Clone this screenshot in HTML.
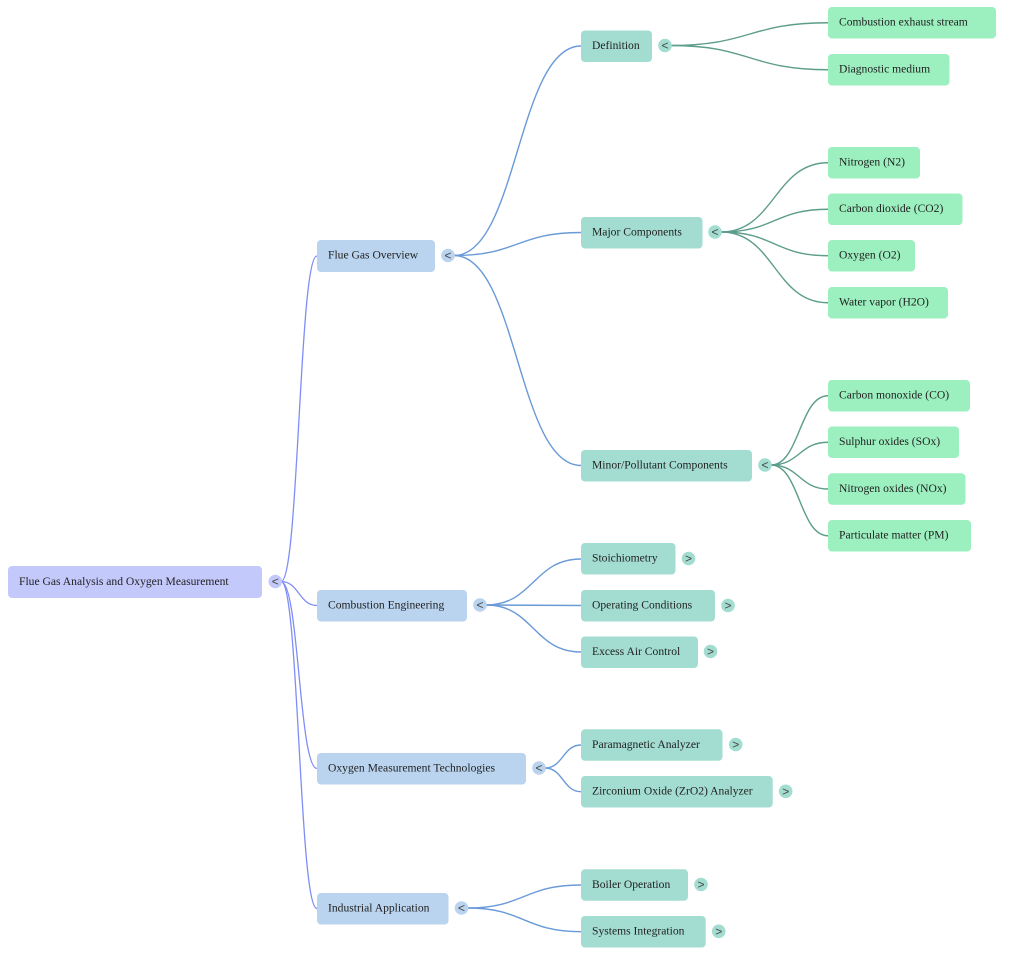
<!DOCTYPE html>
<html>
<head>
<meta charset="utf-8">
<style>
  html,body{margin:0;padding:0;background:#ffffff;}
  svg{display:block;}
  text{font-family:"Liberation Serif","Times New Roman",serif;font-size:11.6px;fill:#1f1f1f;}
  .ct{font-family:"Liberation Sans",sans-serif;font-size:12px;fill:#444;text-anchor:middle;}
  .lr{fill:none;stroke:#7e8ef6;stroke-width:1.3;}
  .l1{fill:none;stroke:#6a9ad8;stroke-width:1.4;}
  .l2{fill:none;stroke:#5d9d8b;stroke-width:1.4;}
</style>
</head>
<body>
<svg width="1024" height="955" viewBox="0 0 1024 955" xmlns="http://www.w3.org/2000/svg">
  <!-- root connectors -->
  <path class="lr" d="M281,581.5 C299,581.5 299,256 317,256"/>
  <path class="lr" d="M281,581.5 C299,581.5 299,605.5 317,605.5"/>
  <path class="lr" d="M281,581.5 C299,581.5 299,768.5 317,768.5"/>
  <path class="lr" d="M281,581.5 C299,581.5 299,908.5 317,908.5"/>

  <!-- level1 connectors -->
  <path class="l1" d="M454,255.5 C517.5,255.5 517.5,46 581,46"/>
  <path class="l1" d="M454,255.5 C517.5,255.5 517.5,232.5 581,232.5"/>
  <path class="l1" d="M454,255.5 C517.5,255.5 517.5,465.5 581,465.5"/>

  <path class="l1" d="M486,605 C533.5,605 533.5,559 581,559"/>
  <path class="l1" d="M486,605 C533.5,605 533.5,605.5 581,605.5"/>
  <path class="l1" d="M486,605 C533.5,605 533.5,652 581,652"/>

  <path class="l1" d="M545,768 C563,768 563,745 581,745"/>
  <path class="l1" d="M545,768 C563,768 563,791.7 581,791.7"/>

  <path class="l1" d="M467.5,908 C524,908 524,885 581,885"/>
  <path class="l1" d="M467.5,908 C524,908 524,931.7 581,931.7"/>

  <!-- level2 connectors -->
  <path class="l2" d="M671,45.5 C749.5,45.5 749.5,22.75 828,22.75"/>
  <path class="l2" d="M671,45.5 C749.5,45.5 749.5,69.75 828,69.75"/>

  <path class="l2" d="M721,232 C774.5,232 774.5,162.75 828,162.75"/>
  <path class="l2" d="M721,232 C774.5,232 774.5,209.25 828,209.25"/>
  <path class="l2" d="M721,232 C774.5,232 774.5,255.75 828,255.75"/>
  <path class="l2" d="M721,232 C774.5,232 774.5,302.75 828,302.75"/>

  <path class="l2" d="M771,465 C799.5,465 799.5,395.75 828,395.75"/>
  <path class="l2" d="M771,465 C799.5,465 799.5,442.25 828,442.25"/>
  <path class="l2" d="M771,465 C799.5,465 799.5,489 828,489"/>
  <path class="l2" d="M771,465 C799.5,465 799.5,535.75 828,535.75"/>

  <!-- root -->
  <rect x="8" y="566" width="254" height="32" rx="4" fill="#c4c9fb"/>
  <text x="19" y="585">Flue Gas Analysis and Oxygen Measurement</text>
  <circle cx="275.3" cy="581.5" r="6.8" fill="#c4c9fb"/>
  <text class="ct" x="275.3" y="585.6">&lt;</text>

  <!-- level 1 -->
  <g>
    <rect x="317" y="240" width="118" height="32" rx="4" fill="#bad4ef"/>
    <text x="328" y="258.5">Flue Gas Overview</text>
    <circle cx="448" cy="255.5" r="6.8" fill="#bad4ef"/>
    <text class="ct" x="448" y="259.6">&lt;</text>

    <rect x="317" y="590" width="150" height="31.5" rx="4" fill="#bad4ef"/>
    <text x="328" y="608.5">Combustion Engineering</text>
    <circle cx="480" cy="605" r="6.8" fill="#bad4ef"/>
    <text class="ct" x="480" y="609.1">&lt;</text>

    <rect x="317" y="753" width="209" height="31.5" rx="4" fill="#bad4ef"/>
    <text x="328" y="771.5">Oxygen Measurement Technologies</text>
    <circle cx="539" cy="768" r="6.8" fill="#bad4ef"/>
    <text class="ct" x="539" y="772.1">&lt;</text>

    <rect x="317" y="893" width="131.5" height="31.5" rx="4" fill="#bad4ef"/>
    <text x="328" y="911.5">Industrial Application</text>
    <circle cx="461.5" cy="908" r="6.8" fill="#bad4ef"/>
    <text class="ct" x="461.5" y="912.1">&lt;</text>
  </g>

  <!-- level 2 -->
  <g>
    <rect x="581" y="30.5" width="71" height="31.5" rx="4" fill="#a3ddd1"/>
    <text x="592" y="49">Definition</text>
    <circle cx="665" cy="45.5" r="6.8" fill="#a3ddd1"/>
    <text class="ct" x="665" y="49.6">&lt;</text>

    <rect x="581" y="217" width="121.5" height="31.5" rx="4" fill="#a3ddd1"/>
    <text x="592" y="235.5">Major Components</text>
    <circle cx="715" cy="232" r="6.8" fill="#a3ddd1"/>
    <text class="ct" x="715" y="236.1">&lt;</text>

    <rect x="581" y="450" width="171" height="31.5" rx="4" fill="#a3ddd1"/>
    <text x="592" y="468.5">Minor/Pollutant Components</text>
    <circle cx="765" cy="465" r="6.8" fill="#a3ddd1"/>
    <text class="ct" x="765" y="469.1">&lt;</text>

    <rect x="581" y="543" width="94.5" height="31.5" rx="4" fill="#a3ddd1"/>
    <text x="592" y="561.5">Stoichiometry</text>
    <circle cx="688.5" cy="558.5" r="6.8" fill="#a3ddd1"/>
    <text class="ct" x="688.5" y="562.6">&gt;</text>

    <rect x="581" y="590" width="134" height="31.5" rx="4" fill="#a3ddd1"/>
    <text x="592" y="608.5">Operating Conditions</text>
    <circle cx="728" cy="605.5" r="6.8" fill="#a3ddd1"/>
    <text class="ct" x="728" y="609.6">&gt;</text>

    <rect x="581" y="636.5" width="117" height="31.5" rx="4" fill="#a3ddd1"/>
    <text x="592" y="655">Excess Air Control</text>
    <circle cx="710.5" cy="651.5" r="6.8" fill="#a3ddd1"/>
    <text class="ct" x="710.5" y="655.6">&gt;</text>

    <rect x="581" y="729.3" width="141.5" height="31.5" rx="4" fill="#a3ddd1"/>
    <text x="592" y="747.8">Paramagnetic Analyzer</text>
    <circle cx="735.7" cy="744.5" r="6.8" fill="#a3ddd1"/>
    <text class="ct" x="735.7" y="748.6">&gt;</text>

    <rect x="581" y="776" width="191.7" height="31.5" rx="4" fill="#a3ddd1"/>
    <text x="592" y="794.5">Zirconium Oxide (ZrO2) Analyzer</text>
    <circle cx="785.7" cy="791.3" r="6.8" fill="#a3ddd1"/>
    <text class="ct" x="785.7" y="795.4">&gt;</text>

    <rect x="581" y="869.3" width="107" height="31.5" rx="4" fill="#a3ddd1"/>
    <text x="592" y="887.8">Boiler Operation</text>
    <circle cx="701" cy="884.5" r="6.8" fill="#a3ddd1"/>
    <text class="ct" x="701" y="888.6">&gt;</text>

    <rect x="581" y="916" width="124.7" height="31.5" rx="4" fill="#a3ddd1"/>
    <text x="592" y="934.5">Systems Integration</text>
    <circle cx="718.7" cy="931.3" r="6.8" fill="#a3ddd1"/>
    <text class="ct" x="718.7" y="935.4">&gt;</text>
  </g>

  <!-- level 3 -->
  <g>
    <rect x="828" y="7" width="168" height="31.5" rx="4" fill="#9cefbf"/>
    <text x="839" y="25.5">Combustion exhaust stream</text>

    <rect x="828" y="54" width="121.5" height="31.5" rx="4" fill="#9cefbf"/>
    <text x="839" y="72.5">Diagnostic medium</text>

    <rect x="828" y="147" width="92" height="31.5" rx="4" fill="#9cefbf"/>
    <text x="839" y="165.5">Nitrogen (N2)</text>

    <rect x="828" y="193.5" width="134.5" height="31.5" rx="4" fill="#9cefbf"/>
    <text x="839" y="212">Carbon dioxide (CO2)</text>

    <rect x="828" y="240" width="87" height="31.5" rx="4" fill="#9cefbf"/>
    <text x="839" y="258.5">Oxygen (O2)</text>

    <rect x="828" y="287" width="120" height="31.5" rx="4" fill="#9cefbf"/>
    <text x="839" y="305.5">Water vapor (H2O)</text>

    <rect x="828" y="380" width="142" height="31.5" rx="4" fill="#9cefbf"/>
    <text x="839" y="398.5">Carbon monoxide (CO)</text>

    <rect x="828" y="426.5" width="131" height="31.5" rx="4" fill="#9cefbf"/>
    <text x="839" y="445">Sulphur oxides (SOx)</text>

    <rect x="828" y="473.3" width="137.5" height="31.5" rx="4" fill="#9cefbf"/>
    <text x="839" y="491.8">Nitrogen oxides (NOx)</text>

    <rect x="828" y="520" width="143" height="31.5" rx="4" fill="#9cefbf"/>
    <text x="839" y="538.5">Particulate matter (PM)</text>
  </g>
</svg>
</body>
</html>
